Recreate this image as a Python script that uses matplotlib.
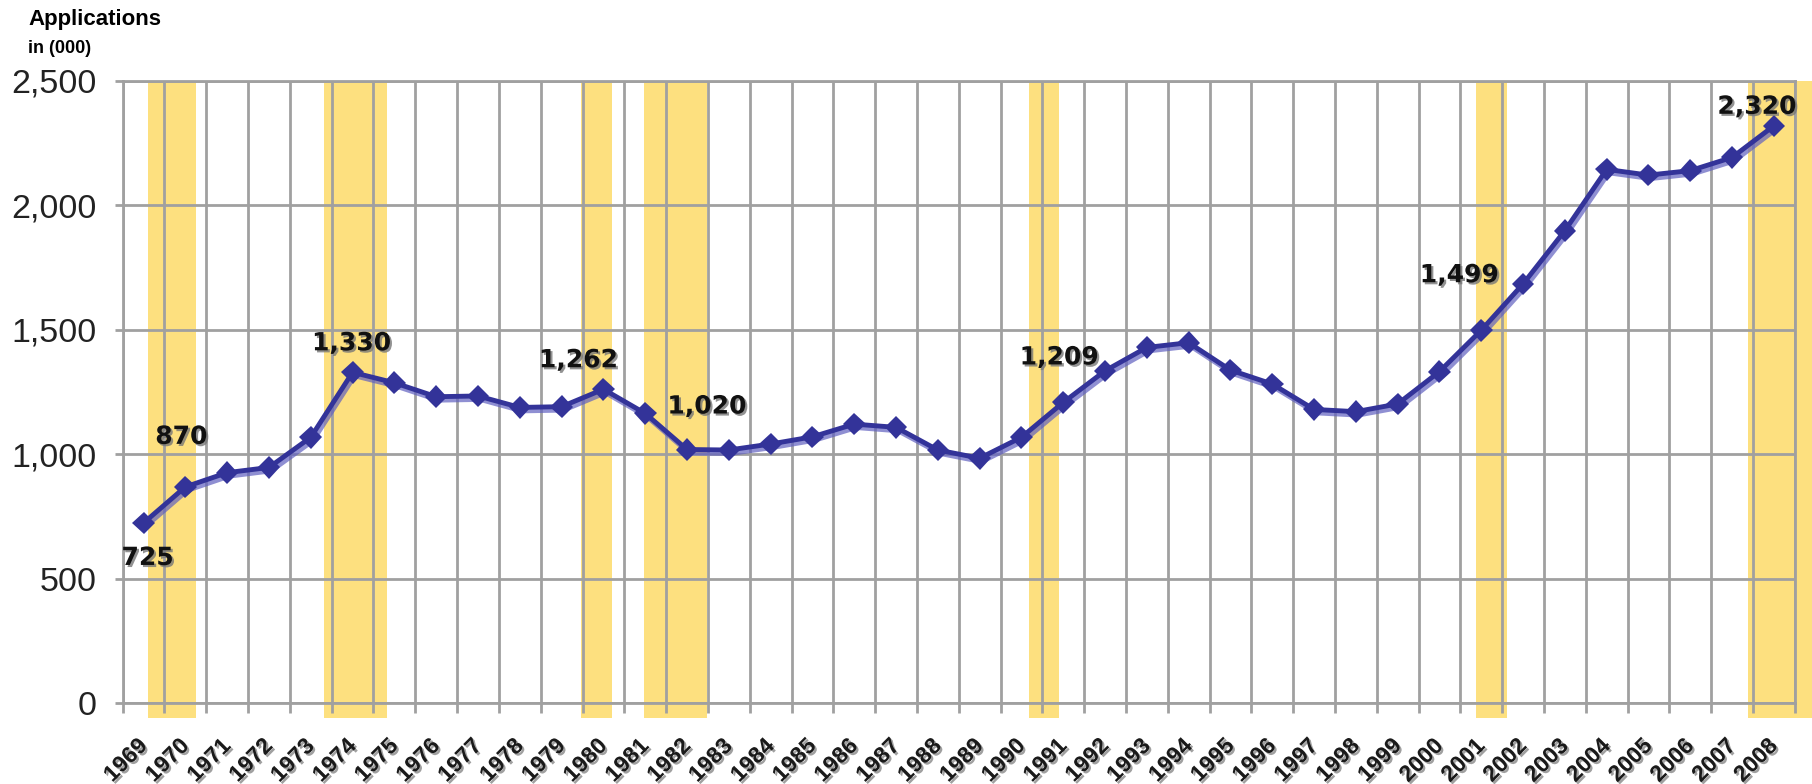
import numpy as np
import matplotlib
matplotlib.use("Agg")
import matplotlib.pyplot as plt
import matplotlib.patheffects as pe

# applications per year, in thousands
years = list(range(1969, 2009))
apps = [725, 870, 927, 948, 1069, 1330, 1288, 1232, 1235, 1189,
        1192, 1262, 1165, 1020, 1018, 1042, 1071, 1122, 1109, 1018,
        985, 1069, 1209, 1336, 1430, 1449, 1339, 1283, 1181, 1172,
        1203, 1333, 1499, 1685, 1899, 2145, 2122, 2140, 2193, 2320]

# years that get a value label
labelled = [1969, 1970, 1974, 1980, 1982, 1991, 2001, 2008]

# shaded recession periods (in year positions of the chart)
band_start = [1969.11, 1973.32, 1979.46, 1980.98, 1990.17, 2000.88, 2007.39]
band_end = [1970.25, 1974.83, 1980.20, 1982.49, 1990.91, 2001.62, 2009.5]

yticks = [0, 500, 1000, 1500, 2000, 2500]
ytick_labels = ["0", "500", "1,000", "1,500", "2,000", "2,500"]

grid_col = "#a0a0a0"
line_col = "#333399"
band_col = "#fde07f"

fig = plt.figure(figsize=(18.12, 7.84), dpi=100)
ax = fig.add_axes([0.0677, 0.1027, 0.9228, 0.794])

for s, e in zip(band_start, band_end):
    ax.axvspan(s, e, ymin=-0.023, ymax=1, color=band_col, lw=0,
               zorder=0.2, clip_on=False)

ax.plot(years, apps, color=line_col, lw=3.5, marker="D", ms=11.5, mew=0,
        zorder=3,
        path_effects=[pe.SimpleLineShadow(offset=(1.5, -2.5), shadow_color="#6060c0", alpha=0.7),
                      pe.Normal()])

# value labels
offsets = {1969: (4, -35), 1970: (-4, 50), 1974: (-1, 29), 1980: (-25, 29),
           1982: (20, 43), 1991: (-4, 45), 2001: (-22, 55), 2008: (-17, 19)}
for yr in labelled:
    v = apps[years.index(yr)]
    ax.annotate(f"{v:,}", (yr, v), xytext=offsets[yr], textcoords="offset pixels",
                ha="center", va="center", fontsize=18, fontweight="bold",
                family="DejaVu Sans", color="#111111", zorder=5,
                path_effects=[pe.withSimplePatchShadow(offset=(1.5, -1.5),
                                                       shadow_rgbFace="#777777", alpha=0.8)])

ax.set_xlim(1968.5, 2008.5)
ax.set_ylim(0, 2500)

# gridlines on the year boundaries
ax.set_xticks(np.arange(1968.5, 2009, 1), minor=True)
ax.set_xticks(years)
ax.set_xticklabels([str(y) for y in years], rotation=45, ha="right", va="center",
                   rotation_mode="anchor", fontsize=16.5, fontweight="bold",
                   family="Liberation Sans", color="#1a1a1a")
for t in ax.get_xticklabels():
    t.set_path_effects([pe.withSimplePatchShadow(offset=(1.5, -1.5),
                                                 shadow_rgbFace="#888888", alpha=0.8)])
ax.tick_params(axis="x", which="major", length=0, pad=28)
ax.tick_params(axis="x", which="minor", length=7, width=2, color=grid_col)

ax.set_yticks(yticks)
ax.set_yticklabels(ytick_labels, fontsize=24.5, family="Liberation Sans", color="#222222")
ax.tick_params(axis="y", length=6, width=2, color=grid_col, pad=13)

ax.grid(True, which="minor", axis="x", color=grid_col, lw=2)
ax.grid(True, which="major", axis="y", color=grid_col, lw=2)
ax.set_axisbelow(True)
for sp in ax.spines.values():
    sp.set_color(grid_col)
    sp.set_linewidth(2)
    sp.set_zorder(0.6)

fig.text(28 / 1812, 1 - 25 / 784, "Applications", fontsize=16, fontweight="bold",
         family="Liberation Sans", va="baseline", ha="left")
fig.text(28 / 1812, 1 - 53 / 784, "in (000)", fontsize=13, fontweight="bold",
         family="Liberation Sans", va="baseline", ha="left")

fig.savefig("out.png", dpi=100)
